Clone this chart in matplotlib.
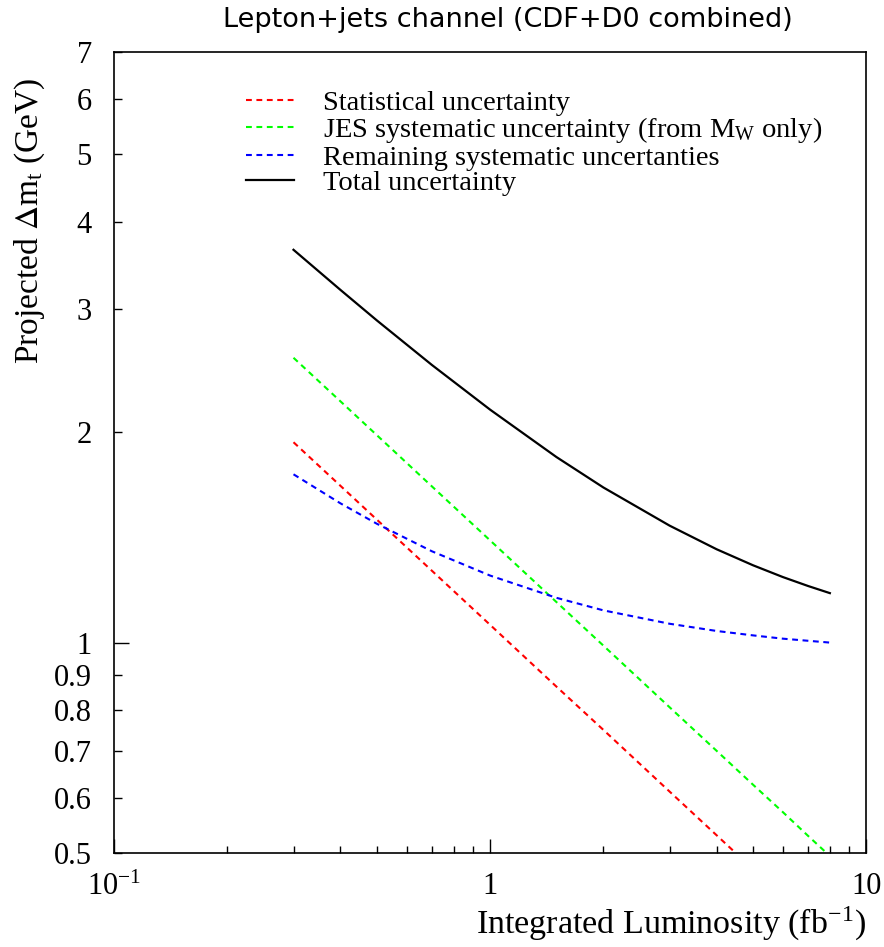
#!/usr/bin/env python3

import matplotlib
matplotlib.use('Agg')
import matplotlib.pyplot as plt
from matplotlib.ticker import FixedLocator, FixedFormatter, NullFormatter

plt.rcParams['font.family'] = ['Liberation Serif', 'DejaVu Serif']
plt.rcParams['mathtext.fontset'] = 'stix'

# Integrated luminosity points (fb^-1) and projected uncertainties (GeV)
lumi = [0.3, 0.4, 0.5, 0.7, 1.0, 1.5, 2.0, 3.0, 4.0, 5.0, 6.0, 7.0, 8.0]
stat_unc = [1.935, 1.676, 1.499, 1.267, 1.060, 0.865, 0.750, 0.612, 0.530, 0.474, 0.433, 0.401, 0.375]
jes_unc = [2.556, 2.214, 1.980, 1.673, 1.400, 1.143, 0.990, 0.808, 0.700, 0.626, 0.572, 0.529, 0.495]
rest_unc = [1.741, 1.582, 1.479, 1.351, 1.247, 1.159, 1.112, 1.064, 1.039, 1.024, 1.013, 1.006, 1.000]
total_unc = [3.648, 3.196, 2.890, 2.496, 2.154, 1.843, 1.667, 1.470, 1.360, 1.290, 1.241, 1.205, 1.177]

labels = ['Statistical uncertainty',
          r'JES systematic uncertainty (from $\mathregular{M_W}$ only)',
          'Remaining systematic uncertanties',
          'Total uncertainty']

y_minor = [0.5, 0.6, 0.7, 0.8, 0.9, 2, 3, 4, 5, 6, 7]
y_minor_labels = ['0.5', '0.6', '0.7', '0.8', '0.9', '2', '3', '4', '5', '6', '7']
x_major = [0.1, 1, 10]
x_major_labels = [r'$\mathregular{10^{-1}}$', '1', '10']


def main():
    fig = plt.figure(figsize=(8.84, 9.47), dpi=100)
    ax = fig.add_axes([0.129, 0.0993, 0.851, 0.8458])

    dash = (0, (2.8, 2.2))
    ax.plot(lumi, stat_unc, color='#ff0000', lw=1.5, ls=dash, label=labels[0])
    ax.plot(lumi, jes_unc, color='#00ff00', lw=1.5, ls=dash, label=labels[1])
    ax.plot(lumi, rest_unc, color='#0000ff', lw=1.5, ls=dash, label=labels[2])
    ax.plot(lumi, total_unc, color='black', lw=1.6, ls='-', label=labels[3])

    ax.set_xscale('log')
    ax.set_yscale('log')
    ax.set_xlim(0.1, 10)
    ax.set_ylim(0.5, 7)

    # y axis: long tick at 1, short labelled ticks elsewhere
    ax.yaxis.set_major_locator(FixedLocator([1]))
    ax.yaxis.set_major_formatter(FixedFormatter(['1']))
    ax.yaxis.set_minor_locator(FixedLocator(y_minor))
    ax.yaxis.set_minor_formatter(FixedFormatter(y_minor_labels))

    ax.xaxis.set_major_locator(FixedLocator(x_major))
    ax.xaxis.set_major_formatter(FixedFormatter(x_major_labels))
    x_minor = [m * d for d in (0.1, 1) for m in range(2, 10)]
    ax.xaxis.set_minor_locator(FixedLocator(x_minor))
    ax.xaxis.set_minor_formatter(NullFormatter())

    ax.tick_params(axis='y', which='major', direction='in', length=11, width=1,
                   labelsize=22, pad=16, right=False)
    ax.tick_params(axis='y', which='minor', direction='in', length=6, width=1,
                   labelsize=22, pad=16, right=False)
    ax.tick_params(axis='x', which='major', direction='in', length=10, width=1,
                   labelsize=22, pad=14, top=False)
    ax.tick_params(axis='x', which='minor', direction='in', length=5, width=1, top=False)
    for s in ax.spines.values():
        s.set_linewidth(1.2)

    ax.set_xlabel(r'Integrated Luminosity (fb$^{\mathregular{-1}}$)', fontsize=24.5)
    ax.xaxis.set_label_coords(1.0, -0.064)
    ax.xaxis.label.set_horizontalalignment('right')
    ax.set_ylabel(r'Projected $\Delta\mathregular{m_t}$ (GeV)', fontsize=24)
    ax.yaxis.set_label_coords(-0.112, 0.968)
    ax.yaxis.label.set_verticalalignment('center')
    ax.yaxis.label.set_horizontalalignment('right')

    fig.text(0.574, 0.979, 'Lepton+jets channel (CDF+D0 combined)',
             family='DejaVu Sans', fontsize=19.5, ha='center', va='center')

    ax.legend(loc='upper left', bbox_to_anchor=(0.16, 0.967), frameon=False,
              fontsize=20.5, handlelength=1.7, handletextpad=1.0,
              labelspacing=-0.02, borderaxespad=0)

    fig.savefig('out.png', dpi=100)


if __name__ == "__main__":
    main()
